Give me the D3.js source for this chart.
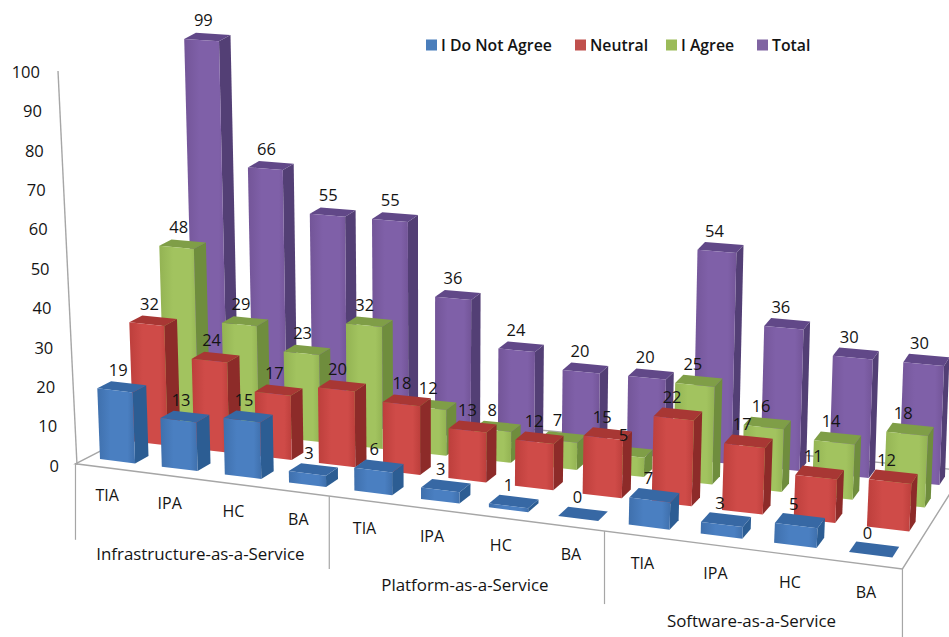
<!DOCTYPE html>
<html>
<head>
<meta charset="utf-8">
<script src="https://cdn.jsdelivr.net/npm/d3@7"></script>
<style>
  html, body { margin: 0; padding: 0; background: #fff; }
  svg { display: block; }
  text { font-family: "Open Sans", "Noto Sans", sans-serif; fill: #141414; }
</style>
</head>
<body>
<svg id="chart" width="949" height="637"></svg>
<script>
// Survey responses per service model and adoption category
const services = ["TIA", "IPA", "HC", "BA", "TIA", "IPA", "HC", "BA", "TIA", "IPA", "HC", "BA"];
const groups = ["Infrastructure-as-a-Service", "Platform-as-a-Service", "Software-as-a-Service"];
const seriesNames = ["I Do Not Agree", "Neutral", "I Agree", "Total"];
const disagree = [19, 13, 15, 3, 6, 3, 1, 0, 7, 3, 5, 0];
const neutral = [32, 24, 17, 20, 18, 13, 12, 15, 22, 17, 11, 12];
const agree = [48, 29, 23, 32, 12, 8, 7, 5, 25, 16, 14, 18];
const total = [99, 66, 55, 55, 36, 24, 20, 20, 54, 36, 30, 30];
const valueTicks = [0, 10, 20, 30, 40, 50, 60, 70, 80, 90, 100];

const seriesValues = [disagree, neutral, agree, total];
const palette = [
  { front: "#4a7fc1", edge: "#3f70ad", side: "#2c5d93", top: "#3768a4", key: "#4a7ebb" },
  { front: "#cf4b48", edge: "#bd3f3c", side: "#8d2b29", top: "#a83734", key: "#c0504d" },
  { front: "#a2c35f", edge: "#93b353", side: "#6f8d3d", top: "#7f9e47", key: "#9bbb59" },
  { front: "#7f60a8", edge: "#735598", side: "#533f75", top: "#614888", key: "#8064a2" }
];

const svg = d3.select("#chart");

// Floor plane: a rational map from the unit square onto the page, pinned at four corners
const floorCorners = [[100, 459], [849, 552], [899, 481], [194, 410]];
const SKEW_S = -0.1, SKEW_T = 0.1;
const floorPoint = (() => {
  const axis = k => {
    const [p0, p1, p2, p3] = floorCorners.map(c => c[k]);
    const a = p1 * (1 + SKEW_S) - p0;
    const b = p3 * (1 + SKEW_T) - p0;
    const q = p2 * (1 + SKEW_S + SKEW_T) - a - b - p0;
    return (s, t) => (a * s + b * t + q * s * t + p0) / (1 + SKEW_S * s + SKEW_T * t);
  };
  const fx = axis(0), fy = axis(1);
  return (s, t) => [fx(s, t), fy(s, t)];
})();

const across = d3.scaleLinear().domain([0, services.length - 1]).range([0, 1]);
const depth = d3.scaleLinear().domain([0, seriesNames.length - 1]).range([0, 1]);
const unitsTall = d3.scaleLinear().domain([0, 100]).range([0, 1]);

// Page position of a point at column u, row v and height value;
// verticals splay outwards from the page centre, less so in the far rows on the right
function project(u, v, value) {
  const [bx, by] = floorPoint(across(u), depth(v));
  const h = unitsTall(value);
  const pixelsTall = 372 + 0.03 * (bx - 100);
  const splay = bx > 425 ? 0.043 * (1 - 0.1 * v) : 0.043;
  return [bx + h * splay * (bx - 425), by - h * pixelsTall];
}

const BAR_WIDTH = 0.57;
const BAR_DEPTH = 0.4;
const FLOOR_U0 = -0.2, FLOOR_U1 = 11.78, FLOOR_V0 = -0.35, FLOOR_V1 = 3.75;

const poly = pts => "M" + pts.map(p => p.map(n => n.toFixed(1)).join(",")).join("L") + "Z";
const line = d3.line();

// Front shading of each series
const defs = svg.append("defs");
palette.forEach((c, i) => {
  const g = defs.append("linearGradient").attr("id", "front" + i);
  g.append("stop").attr("offset", "0").attr("stop-color", c.edge);
  g.append("stop").attr("offset", "0.35").attr("stop-color", c.front);
  g.append("stop").attr("offset", "0.8").attr("stop-color", c.front);
  g.append("stop").attr("offset", "1").attr("stop-color", c.edge);
});

// Floor outline and the value axis
const axisStroke = "#a6a6a6";
const axisY = d3.scaleLinear().domain([0, 100]).range([465, 71]);
const axisX = d3.scaleLinear().domain([0, 100]).range([77, 58]);

const floorGroup = svg.append("g").attr("fill", "none").attr("stroke", axisStroke).attr("stroke-width", 1.4);
floorGroup.append("path").attr("d", line([
  project(FLOOR_U0, FLOOR_V1, 0), project(FLOOR_U0, FLOOR_V0, 0),
  project(FLOOR_U1, FLOOR_V0, 0), project(FLOOR_U1, FLOOR_V1, 0)
]));
floorGroup.append("path").attr("d", line([project(FLOOR_U0, FLOOR_V1, 0), project(FLOOR_U1, FLOOR_V1, 0)]));
floorGroup.append("path").attr("d", line([[axisX(0), axisY(0)], [axisX(100), axisY(100)]]));

svg.append("g").selectAll("text").data(valueTicks).join("text")
  .attr("x", d => axisX(d) - 18)
  .attr("y", d => axisY(d) + 1)
  .attr("dy", "0.35em")
  .attr("text-anchor", "end")
  .attr("font-size", 16.5)
  .text(d => d);

// Group separators hang below the front edge of the floor
const dividerColumns = [FLOOR_U0, 3.78, 7.78, FLOOR_U1];
const dividerDrop = [76, 73, 73, 72];
svg.append("g").attr("stroke", axisStroke).attr("stroke-width", 1.2)
  .selectAll("line").data(dividerColumns).join("line")
  .attr("x1", d => project(d, FLOOR_V0, 0)[0])
  .attr("x2", d => project(d, FLOOR_V0, 0)[0])
  .attr("y1", d => project(d, FLOOR_V0, 0)[1])
  .attr("y2", (d, i) => project(d, FLOOR_V0, 0)[1] + dividerDrop[i]);

// Bars, back row first so nearer rows overlap them
const bars = svg.append("g");
d3.range(seriesNames.length - 1, -1, -1).forEach(v => {
  const c = palette[v];
  seriesValues[v].forEach((value, u) => {
    const u1 = u + BAR_WIDTH, v1 = v + BAR_DEPTH;
    const g = bars.append("g");
    g.append("path").attr("fill", c.side).attr("d", poly([
      project(u1, v, 0), project(u1, v1, 0), project(u1, v1, value), project(u1, v, value)
    ]));
    g.append("path").attr("fill", c.top).attr("d", poly([
      project(u, v, value), project(u1, v, value), project(u1, v1, value), project(u, v1, value)
    ]));
    g.append("path").attr("fill", `url(#front${v})`).attr("d", poly([
      project(u, v, 0), project(u1, v, 0), project(u1, v, value), project(u, v, value)
    ]));
  });
});

// Value labels sit over every bar
const labels = svg.append("g").attr("font-size", 16.5).attr("text-anchor", "middle");
seriesValues.forEach((values, v) => {
  values.forEach((value, u) => {
    const [lx, ly] = project(u + BAR_WIDTH / 2, v + BAR_DEPTH / 2, value);
    labels.append("text")
      .attr("x", lx - 4 - 0.004 * (lx - 200))
      .attr("y", ly - 16.5)
      .attr("dy", "0.35em")
      .text(value);
  });
});

// Column names under the floor
svg.append("g").attr("font-size", 16).attr("text-anchor", "middle")
  .selectAll("text").data(services).join("text")
  .attr("x", (d, i) => project(i + 0.28, FLOOR_V0, 0)[0] + 2)
  .attr("y", (d, i) => project(i + 0.28, FLOOR_V0, 0)[1] + 28)
  .attr("dy", "0.35em")
  .text(d => d);

// Group names centred between their separators
const groupDrop = [74, 72, 71];
svg.append("g").attr("font-size", 16.9).attr("text-anchor", "middle")
  .selectAll("text").data(groups).join("text")
  .attr("x", (d, i) => (project(dividerColumns[i], FLOOR_V0, 0)[0] + project(dividerColumns[i + 1], FLOOR_V0, 0)[0]) / 2 - 2)
  .attr("y", (d, i) => (project(dividerColumns[i], FLOOR_V0, 0)[1] + project(dividerColumns[i + 1], FLOOR_V0, 0)[1]) / 2 + groupDrop[i])
  .attr("dy", "0.35em")
  .text(d => d);

// Legend along the top
const legendX = [426, 575, 666, 757];
const legend = svg.append("g").selectAll("g").data(seriesNames).join("g")
  .attr("transform", (d, i) => `translate(${legendX[i]},45)`);
legend.append("rect").attr("y", -5.5).attr("width", 11).attr("height", 11)
  .attr("fill", (d, i) => palette[i].key);
legend.append("text").attr("x", 15).attr("dy", "0.35em")
  .attr("font-size", 15.8).attr("font-weight", 600).text(d => d);
</script>
</body>
</html>
